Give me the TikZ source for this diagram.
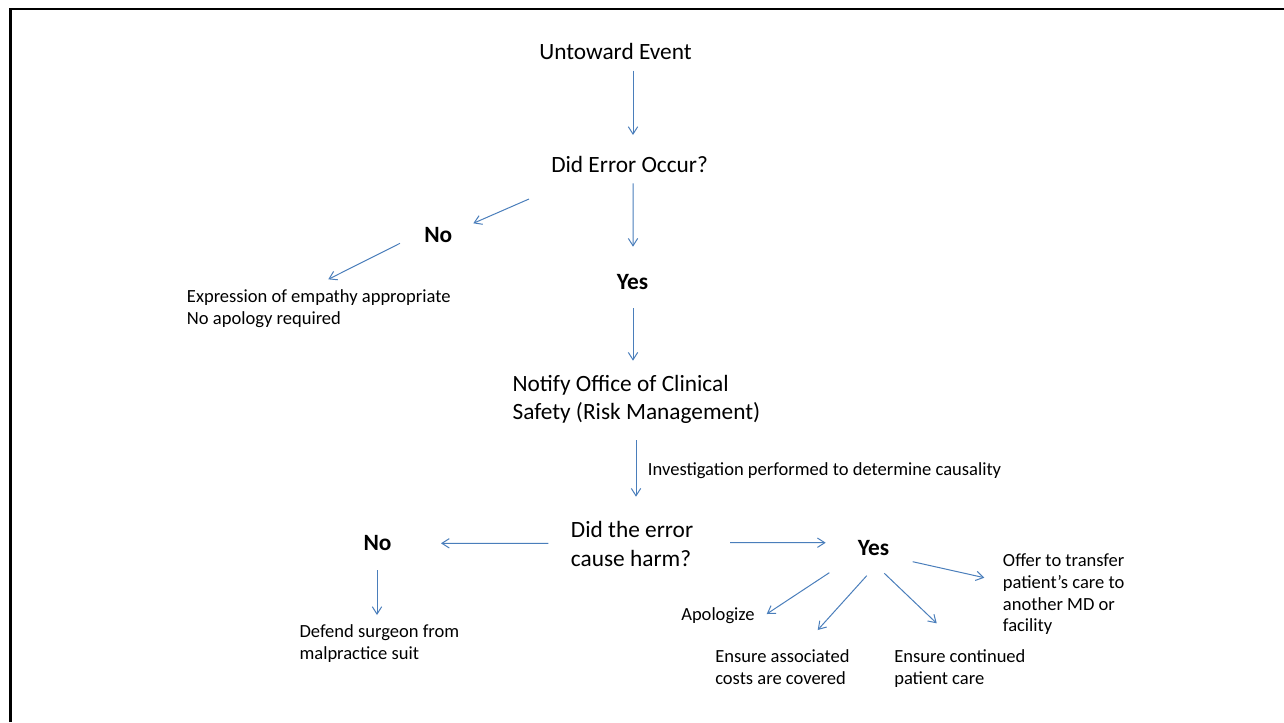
\documentclass[tikz,border=0pt]{standalone}
\usepackage{fontspec}
\setmainfont{Carlito}
\usetikzlibrary{arrows.meta,calc}
\definecolor{arrblue}{RGB}{74,126,187}
\newcommand\bigtxt{\fontsize{17.5}{21.6}\selectfont}
\newcommand\smalltxt{\fontsize{13.9}{16.3}\selectfont}
\newcommand\stacklines[1]{\begin{tabular}[t]{@{}l@{}}#1\end{tabular}}
\tikzset{
  big/.style={anchor=base west,inner sep=0pt,font=\bigtxt},
  small/.style={anchor=base west,inner sep=0pt,font=\smalltxt},
  bold/.style={anchor=base west,inner sep=0pt,font=\bigtxt\bfseries},
  arr/.style={draw=arrblue,line width=0.75pt,-{Straight Barb[length=5.5pt,width=7pt]}},
  frame/.style={draw=black,line width=1.9pt}
}
\begin{document}
\begin{tikzpicture}[x=0.75pt,y=-0.75pt]
\useasboundingbox (0,0) rectangle (1284,722);
\draw[frame] (10.5,722) -- (10.5,9) -- (1284,9);
% nodes
\node[big]   (ue)     at (539,59)      {Untoward Event};
\node[big]   (q1)     at (551,172.7)   {Did Error Occur?};
\node[bold]  (no1)    at (424,242.3)   {No};
\node[small] (emp)    at (186.7,302.3) {\stacklines{Expression of empathy appropriate\\No apology required}};
\node[bold]  (yes1)   at (616.7,289)   {Yes};
\node[big]   (notify) at (512.3,391)   {\stacklines{Notify Office of Clinical\\Safety (Risk Management)}};
\node[small] (inv)    at (647.7,475.7) {Investigation performed to determine causality};
\node[big]   (q2)     at (570.7,537.3) {\stacklines{Did the error\\cause harm?}};
\node[bold]  (no2)    at (363.3,550)   {No};
\node[small] (defend) at (299.3,637.3) {\stacklines{Defend surgeon from\\malpractice suit}};
\node[bold]  (yes2)   at (857.7,555)   {Yes};
\node[small] (apol)   at (681,620.7)   {Apologize};
\node[small] (costs)  at (715,662.7)   {\stacklines{Ensure associated\\costs are covered}};
\node[small] (care)   at (894,662.7)   {\stacklines{Ensure continued\\patient care}};
\node[small] (offer)  at (1002.7,566.7) {\stacklines{Offer to transfer\\patient’s care to\\another MD or\\facility}};
% connectors
\draw[arr] ($(ue.base west)+(94,11.7)$) -- ($(q1.base west)+(82,-37.7)$);
\draw[arr] ($(q1.base west)+(82,10.6)$) -- ($(yes1.base west)+(16.3,-42.3)$);
\draw[arr] ($(q1.base west)+(-22,26.3)$) -- ($(no1.base west)+(49.3,-19)$);
\draw[arr] ($(no1.base west)+(-24,1)$) -- ($(emp.base west)+(141.6,-23)$);
\draw[arr] ($(yes1.base west)+(16.3,19.3)$) -- ($(notify.base west)+(120.7,-30.3)$);
\draw[arr] ($(notify.base west)+(123.7,49)$) -- ($(q2.base west)+(65.3,-40.6)$);
\draw[arr] ($(q2.base west)+(-22.4,6)$) -- ($(no2.base west)+(77.7,-6.7)$);
\draw[arr] ($(no2.base west)+(13.7,20)$) -- ($(defend.base west)+(77.7,-22.3)$);
\draw[arr] ($(q2.base west)+(159.3,5.4)$) -- ($(yes2.base west)+(-32,-12.3)$);
\draw[arr] ($(yes2.base west)+(55,6.7)$) -- ($(offer.base west)+(-18.4,11)$);
\draw[arr] ($(yes2.base west)+(-28.4,17.7)$) -- ($(apol.base west)+(85.7,-6.7)$);
\draw[arr] ($(yes2.base west)+(9,20.7)$) -- ($(costs.base west)+(102.7,-32.7)$);
\draw[arr] ($(yes2.base west)+(26.6,18.3)$) -- ($(care.base west)+(42.7,-39.4)$);
\end{tikzpicture}
\end{document}
